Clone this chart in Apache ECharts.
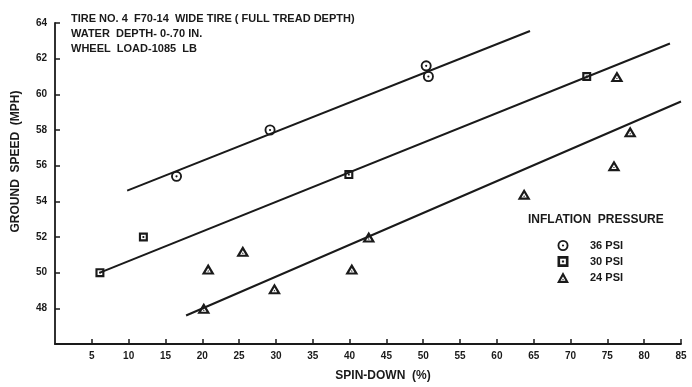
<!DOCTYPE html>
<html>
<head>
<meta charset="utf-8">
<script src="https://cdn.jsdelivr.net/npm/echarts@6/dist/echarts.min.js"></script>
<style>
html,body{margin:0;padding:0;background:#fff;}
#chart{width:692px;height:387px;}
</style>
</head>
<body>
<div id="chart"></div>
<script>
// ---- data ----
var xTickValues = [5,10,15,20,25,30,35,40,45,50,55,60,65,70,75,80,85];
var yTickValues = [48,50,52,54,56,58,60,62,64];
var seriesNames = ['36 PSI','30 PSI','24 PSI'];
var psi36 = [[16.5,55.4],[29.2,58.0],[50.4,61.6],[50.7,61.0]];
var psi30 = [[6.1,50.0],[12.0,52.0],[39.9,55.5],[72.2,61.0]];
var psi24 = [[20.2,48.0],[20.8,50.2],[25.5,51.2],[29.8,49.1],[40.3,50.2],[42.6,52.0],[63.7,54.4],[75.9,56.0],[76.3,61.0],[78.1,57.9]];
var fit36 = [[9.8,54.6],[64.5,63.55]];
var fit30 = [[6.1,50.0],[83.5,62.85]];
var fit24 = [[17.8,47.6],[85,59.6]];
var noteLines = ['TIRE NO. 4  F70-14  WIDE TIRE ( FULL TREAD DEPTH)','WATER  DEPTH- 0-.70 IN.','WHEEL  LOAD-1085  LB'];
var legendTitle = 'INFLATION  PRESSURE';
var xAxisTitle = 'SPIN-DOWN  (%)';
var yAxisTitle = 'GROUND  SPEED  (MPH)';

// ---- symbols ----
var symCircle = 'path://M10,0 A10,10 0 1,1 10,20 A10,10 0 1,1 10,0 Z M10,3.4 A6.6,6.6 0 1,0 10,16.6 A6.6,6.6 0 1,0 10,3.4 Z M10,8 A2,2 0 1,1 10,12 A2,2 0 1,1 10,8 Z';
var symSquare = 'path://M0,0 L20,0 L20,20 L0,20 Z M4.8,4.8 L4.8,15.2 L15.2,15.2 L15.2,4.8 Z M8,8 L12,8 L12,12 L8,12 Z';
var symTri = 'path://M10,0 L20,18 L0,18 Z M10,7.2 L5.9,14.6 L14.1,14.6 Z M10,10.6 L11.4,13 L8.6,13 Z';
var symbols = [symCircle, symSquare, symTri];
var sizes = [[11,11],[9,9],[13,11]];
var ink = '#1a1a1a';
var font = 'Liberation Sans, Arial, sans-serif';

var chart = echarts.init(document.getElementById('chart'), null, {renderer:'canvas'});
var scatterData = [psi36, psi30, psi24];
var fits = [fit36, fit30, fit24];
var series = [];
for (var i = 0; i < 3; i++) {
  series.push({
    type: 'line', data: fits[i], symbol: 'none', silent: true,
    lineStyle: {color: ink, width: 2}, z: 2, legendHoverLink: false
  });
}
for (var j = 0; j < 3; j++) {
  series.push({
    name: seriesNames[j], type: 'scatter', data: scatterData[j],
    symbol: symbols[j], symbolSize: sizes[j],
    itemStyle: {color: ink, opacity: 1}, z: 3
  });
}

chart.setOption({
  animation: false,
  backgroundColor: '#ffffff',
  grid: {left: 55, right: 11, top: 23, bottom: 38, containLabel: false},
  xAxis: {
    type: 'value', min: 0, max: 85, interval: 5,
    name: xAxisTitle, nameLocation: 'middle', nameGap: 26,
    nameTextStyle: {color: ink, fontFamily: font, fontSize: 12, fontWeight: 'bold', padding: [0,0,0,30]},
    axisLine: {show: true, onZero: false, lineStyle: {color: ink, width: 1.8}},
    axisTick: {show: true, inside: true, length: 5, lineStyle: {color: ink, width: 1.5},
      customValues: xTickValues},
    axisLabel: {color: ink, fontFamily: font, fontSize: 10, fontWeight: 'bold', margin: 7,
      customValues: xTickValues},
    splitLine: {show: false}
  },
  yAxis: {
    type: 'value', min: 46, max: 64, interval: 2,
    name: yAxisTitle, nameLocation: 'middle', nameGap: 33, nameRotate: 90,
    nameTextStyle: {color: ink, fontFamily: font, fontSize: 12, fontWeight: 'bold', padding: [0,0,0,44]},
    axisLine: {show: true, onZero: false, lineStyle: {color: ink, width: 1.8}},
    axisTick: {show: true, inside: true, length: 5, lineStyle: {color: ink, width: 1.5},
      customValues: yTickValues},
    axisLabel: {color: ink, fontFamily: font, fontSize: 10, fontWeight: 'bold', margin: 8,
      customValues: yTickValues},
    splitLine: {show: false}
  },
  legend: {
    orient: 'vertical', left: 552, top: 235,
    itemWidth: 12, itemHeight: 11, itemGap: 5,
    data: [
      {name: seriesNames[0], icon: symCircle},
      {name: seriesNames[1], icon: symSquare},
      {name: seriesNames[2], icon: symTri}
    ],
    textStyle: {color: ink, fontFamily: font, fontSize: 11, fontWeight: 'bold', padding: [0,0,0,16]},
    selectedMode: false
  },
  graphic: [
    {type: 'text', left: 71, top: 11, silent: true,
      style: {text: noteLines.join('\n'), fill: ink, font: 'bold 11px ' + font, lineHeight: 15}},
    {type: 'text', left: 528, top: 214, silent: true,
      style: {text: legendTitle, fill: ink, font: 'bold 12px ' + font}}
  ],
  series: series
});
</script>
</body>
</html>
